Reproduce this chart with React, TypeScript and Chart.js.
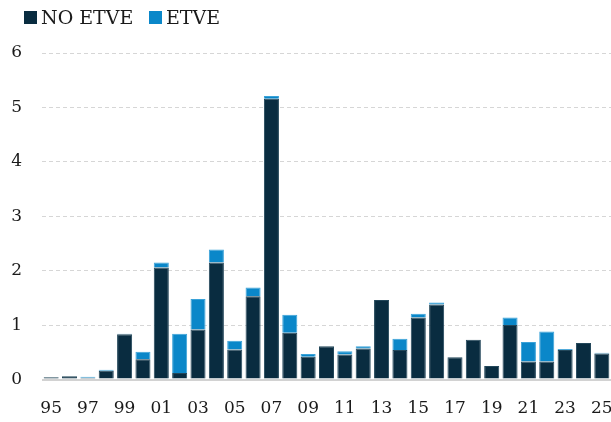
import React, { useEffect, useRef } from "react";
import { Chart, registerables } from "chart.js";

Chart.register(...registerables);

const years: string[] = [
  "95", "96", "97", "98", "99", "00", "01", "02", "03", "04", "05", "06", "07", "08", "09", "10",
  "11", "12", "13", "14", "15", "16", "17", "18", "19", "20", "21", "22", "23", "24", "25",
];

const noEtve: number[] = [
  0.04, 0.06, 0.03, 0.16, 0.83, 0.37, 2.06, 0.12, 0.92, 2.15, 0.55, 1.53, 5.16, 0.86, 0.42, 0.61,
  0.46, 0.57, 1.46, 0.54, 1.14, 1.38, 0.41, 0.73, 0.25, 1.0, 0.33, 0.33, 0.54, 0.67, 0.48,
];

const etve: number[] = [
  0, 0, 0.02, 0.02, 0.01, 0.14, 0.09, 0.72, 0.56, 0.24, 0.16, 0.16, 0.05, 0.33, 0.05, 0,
  0.06, 0.04, 0, 0.21, 0.07, 0.035, 0, 0, 0, 0.14, 0.36, 0.55, 0.02, 0, 0.01,
];

const seriesNames: string[] = ["NO ETVE", "ETVE"];
const seriesColors: string[] = ["#092c40", "#0a87c9"];
const seriesEdges: string[] = ["#23475a", "#3aa2d8"];
const yTicks: number[] = [0, 1, 2, 3, 4, 5, 6];

const FONT = "'DejaVu Serif', serif";

export default function App() {
  const canvasRef = useRef<HTMLCanvasElement | null>(null);

  useEffect(() => {
    document.body.style.margin = "0";
    const canvas = canvasRef.current;
    if (!canvas) return;
    const chart = new Chart(canvas, {
      type: "bar",
      data: {
        labels: years,
        datasets: [
          {
            label: seriesNames[0],
            data: noEtve,
            backgroundColor: seriesColors[0],
            borderColor: seriesEdges[0],
            borderWidth: 1,
            stack: "s",
          },
          {
            label: seriesNames[1],
            data: etve,
            backgroundColor: seriesColors[1],
            borderColor: seriesEdges[1],
            borderWidth: 1,
            stack: "s",
          },
        ],
      },
      options: {
        animation: false,
        responsive: false,
        maintainAspectRatio: false,
        layout: { padding: { top: 53, left: 11, right: 0, bottom: 0 } },
        plugins: {
          legend: { display: false },
          tooltip: { enabled: false },
        },
        datasets: {
          bar: { categoryPercentage: 1, barPercentage: 0.82 },
        },
        scales: {
          x: {
            stacked: true,
            grid: { display: false, drawTicks: false },
            border: { display: false },
            afterFit: (axis: any) => {
              axis.height = 42.5;
              axis.paddingLeft = 0;
              axis.paddingRight = 0;
            },
            ticks: {
              autoSkip: false,
              maxRotation: 0,
              minRotation: 0,
              padding: 19,
              color: "#1a1a1a",
              font: { family: FONT, size: 17 },
              callback: (_v: any, i: number) => (i % 2 === 0 ? years[i] : ""),
            },
          },
          y: {
            stacked: true,
            min: yTicks[0],
            max: yTicks[yTicks.length - 1],
            afterBuildTicks: (axis: any) => {
              axis.ticks = yTicks.map((v) => ({ value: v }));
            },
            afterFit: (axis: any) => {
              axis.width = 31;
              axis.paddingTop = 0;
              axis.paddingBottom = 0;
            },
            grid: {
              drawTicks: false,
              color: (ctx: any) => (ctx.tick && ctx.tick.value === 0 ? "#d2d2d2" : "#d6d6d6"),
              lineWidth: (ctx: any) => (ctx.tick && ctx.tick.value === 0 ? 2 : 1),
            },
            border: {
              display: false,
              dash: (ctx: any) => (ctx.tick && ctx.tick.value === 0 ? [] : [4, 3]),
            },
            ticks: {
              padding: 20,
              color: "#1a1a1a",
              font: { family: FONT, size: 17 },
              callback: (v: any) => String(v),
            },
          },
        },
      },
    });
    return () => chart.destroy();
  }, []);

  const legendItem = (name: string, color: string, boxLeft: number) => (
    <div
      key={name}
      style={{
        position: "absolute",
        left: boxLeft,
        top: 6,
        display: "flex",
        alignItems: "center",
        height: 22,
      }}
    >
      <span style={{ display: "inline-block", width: 13, height: 13, background: color, marginRight: 4 }} />
      <span style={{ fontFamily: FONT, fontSize: 19, color: "#1a1a1a", lineHeight: "22px", whiteSpace: "nowrap" }}>
        {name}
      </span>
    </div>
  );

  return (
    <div style={{ position: "absolute", left: 0, top: 0, width: 611, height: 422, background: "#fff" }}>
      <canvas ref={canvasRef} width={611} height={422} style={{ position: "absolute", left: 0, top: 0 }} />
      {legendItem(seriesNames[0], seriesColors[0], 24)}
      {legendItem(seriesNames[1], seriesColors[1], 149)}
    </div>
  );
}
